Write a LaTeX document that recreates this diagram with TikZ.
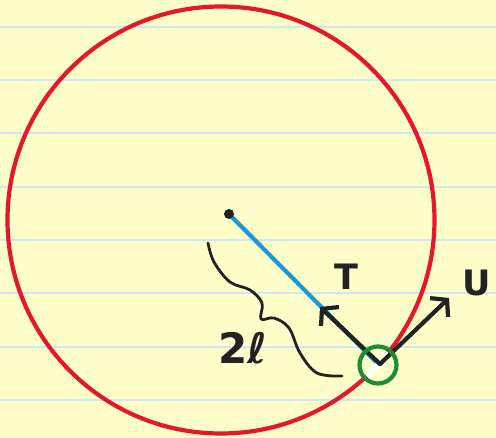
\documentclass[tikz,border=0pt]{standalone}
\usepackage{fontspec}
\usepackage{tikz}
\usetikzlibrary{positioning, arrows.meta, calc}
\newfontfamily\handfont{DejaVu Sans}
\definecolor{padyellow}{HTML}{FFFFCA}
\definecolor{padrule}{HTML}{CFE9F2}
\definecolor{ringred}{HTML}{E6162B}
\definecolor{rodblue}{HTML}{1C9AD6}
\definecolor{markgreen}{HTML}{1E8C32}
\definecolor{inkblack}{HTML}{222222}

\tikzset{
  ink/.style={draw=inkblack, line width=4.2pt, line cap=round, line join=round},
  vecarrow/.style={ink, -{Straight Barb[length=11pt, width=26pt, line width=4.2pt]}},
  handlabel/.style={inkblack, font=\handfont\bfseries\fontsize{35}{35}\selectfont, inner sep=0pt}
}

\begin{document}
\begin{tikzpicture}[x=1pt, y=-1pt]
    % paper
    \fill[padyellow] (0,0) rectangle (496,438);
    \useasboundingbox (0,0) rectangle (496,438);
    \foreach \k in {0,...,7}
      \draw[padrule, line width=2pt] (0,26.7+53.33*\k) -- (496,26.7+53.33*\k);

    % hoop and its centre
    \coordinate (hub) at (229,214);
    \coordinate (ring-c) at (221,220);
    \draw[ringred, line width=4.2pt] (ring-c) circle[radius=213.5];

    % rod and contact point
    \coordinate (contact) at (380,364);
    \coordinate (tip-t) at (320,307);
    \coordinate (tip-u) at (449,298);
    \draw[rodblue, line width=4.2pt] (hub) -- ($(contact)+(-3,-1)$);
    \begin{scope}
      \clip (378,365) circle[radius=16];
      \draw[white, line width=6pt] (ring-c) circle[radius=213.5];
    \end{scope}
    \draw[vecarrow] (contact) -- (tip-t);
    \draw[vecarrow] (contact) -- (tip-u);
    \fill[inkblack] (hub) circle[radius=5pt];
    \node[draw=markgreen, line width=4.2pt, circle, minimum size=37pt, inner sep=0pt]
      (marker) at (378,365) {};

    % labels
    \node[handlabel] (label-t) at (346,277) {T};
    \node[handlabel] (label-u) at (477,283) {U};
    \node[handlabel, font=\handfont\bfseries\fontsize{42}{42}\selectfont] (label-len) at (243,348) {2ℓ};

    % brace for the length
    \draw[ink, line width=2.8pt] plot[smooth, tension=0.6] coordinates {
      (208,243) (214,262) (230,282) (250,290) (262,303) (261,319)
      (274,318) (289,328) (300,353) (317,373) (342,376)};
\end{tikzpicture}
\end{document}
